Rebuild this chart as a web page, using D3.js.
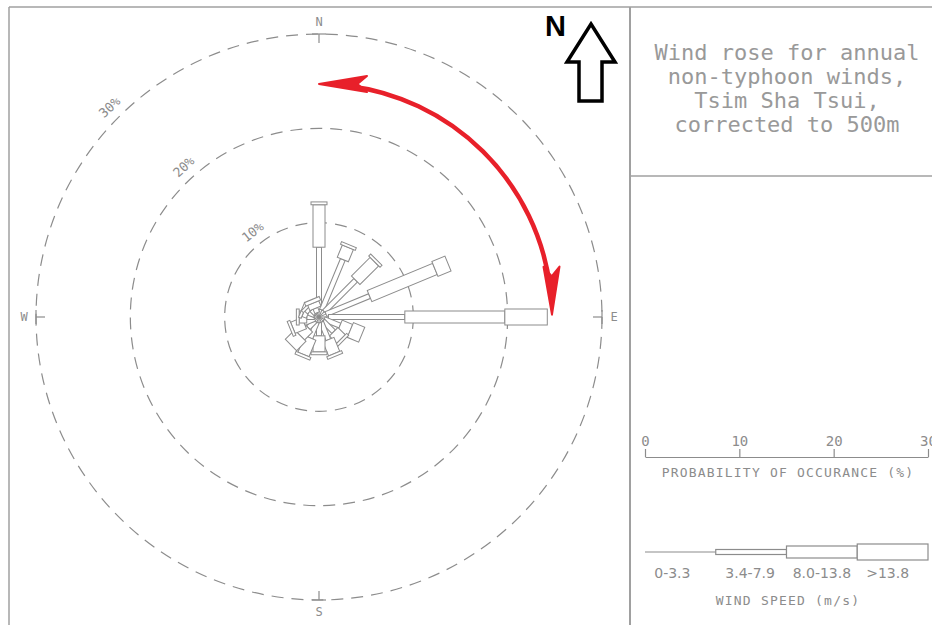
<!DOCTYPE html>
<html>
<head>
<meta charset="utf-8">
<script src="https://cdn.jsdelivr.net/npm/d3@7"></script>
<style>
body { margin: 0; background: #fff; }
svg { display: block; }
.cad { font-family: "DejaVu Sans Mono", monospace; fill: #8c8c8c; }
</style>
</head>
<body>
<div id="chart"></div>
<script>
// wind rose, 16 directions, % occurence split by speed band
var directions = ["N", "NNE", "NE", "ENE", "E", "ESE", "SE", "SSE", "S", "SSW", "SW", "WSW", "W", "WNW", "NW", "NNW"];
var speedBands = ["0-3.3", "3.4-7.9", "8.0-13.8", ">13.8"];
var band1 = [0.8, 0.8, 0.8, 0.8, 1.0, 0.6, 0.6, 0.6, 0.6, 0.6, 0.6, 0.5, 0.5, 0.5, 0.5, 0.5];
var band2 = [6.6, 5.8, 4.7, 5.0, 8.1, 1.8, 1.6, 2.0, 1.4, 1.8, 1.0, 1.2, 0.8, 0.7, 0.6, 0.5];
var band3 = [4.5, 1.4, 2.8, 7.5, 10.6, 1.2, 1.1, 1.6, 1.7, 1.9, 1.2, 1.3, 0.8, 0.5, 0.4, 0.6];
var band4 = [0.3, 0.3, 0.3, 1.5, 4.5, 1.3, 0.3, 0.3, 0.3, 0.3, 1.4, 0.3, 0.3, 0.3, 0.3, 0.4];
var rings = [10, 20, 30];
var scaleTicks = [0, 10, 20, 30];
var cardinals = ["N", "E", "S", "W"];
var titleLines = ["Wind rose for annual", "non-typhoon winds,", "Tsim Sha Tsui,", "corrected to 500m"];

var width = 932, height = 625;
var cx = 319, cy = 317;
var grey = "#8c8c8c";
var bandWidth = [0, 5, 12, 16];

var svg = d3.select("#chart").append("svg")
    .attr("width", width)
    .attr("height", height);

var r = d3.scaleLinear().domain([0, 30]).range([0, 283]);

// frame
var frame = svg.append("g").attr("stroke", "#a0a0a0").attr("stroke-width", 1.5);
frame.append("line").attr("x1", 9).attr("y1", 7).attr("x2", width).attr("y2", 7);
frame.append("line").attr("x1", 9).attr("y1", 7).attr("x2", 9).attr("y2", height);
frame.append("line").attr("x1", 630).attr("y1", 7).attr("x2", 630).attr("y2", height).attr("stroke-width", 2);
frame.append("line").attr("x1", 630).attr("y1", 176).attr("x2", width).attr("y2", 176);

var rose = svg.append("g").attr("transform", "translate(" + cx + "," + cy + ")");

// dashed rings
rose.selectAll("circle.ring")
    .data(rings)
    .enter().append("circle")
    .attr("class", "ring")
    .attr("r", function (d) { return r(d); })
    .attr("fill", "none")
    .attr("stroke", grey)
    .attr("stroke-width", 1.2)
    .attr("stroke-dasharray", "12,8");

// ring labels
rose.selectAll("text.ringlabel")
    .data(rings)
    .enter().append("text")
    .attr("class", "cad ringlabel")
    .attr("font-size", 13)
    .attr("text-anchor", "middle")
    .attr("transform", function (d) {
        var a = (d == 10 ? 322 : d == 20 ? 318 : 315) * Math.PI / 180;
        var rr = r(d) + 9;
        return "translate(" + (rr * Math.sin(a)) + "," + (-rr * Math.cos(a)) + ") rotate(" + (d == 10 ? -38 : -43) + ")";
    })
    .text(function (d) { return d + "%"; });

// cardinal ticks and letters
var R = r(30);
cardinals.forEach(function (c, i) {
    var g = rose.append("g").attr("transform", "rotate(" + (i * 90) + ")");
    g.append("line").attr("x1", -7).attr("x2", 7).attr("y1", -R).attr("y2", -R)
        .attr("stroke", grey).attr("stroke-width", 1.2);
    g.append("line").attr("x1", 0).attr("x2", 0).attr("y1", -R).attr("y2", -R + 9)
        .attr("stroke", grey).attr("stroke-width", 1.2);
    var a = i * Math.PI / 2;
    rose.append("text")
        .attr("class", "cad")
        .attr("font-size", 12)
        .attr("text-anchor", "middle")
        .attr("x", (R + 12) * Math.sin(a))
        .attr("y", -(R + 12) * Math.cos(a) + 4)
        .text(c);
});

// bars
var bars = rose.selectAll("g.dir")
    .data(directions)
    .enter().append("g")
    .attr("class", "dir")
    .attr("transform", function (d, i) { return "rotate(" + (i * 22.5) + ")"; });

bars.each(function (d, i) {
    var g = d3.select(this);
    var c1 = band1[i], c2 = c1 + band2[i], c3 = c2 + band3[i], c4 = c3 + band4[i];
    g.append("line")
        .attr("x1", 0).attr("x2", 0).attr("y1", 0).attr("y2", -r(c1))
        .attr("stroke", grey).attr("stroke-width", 1);
    [[c1, c2, bandWidth[1]], [c2, c3, bandWidth[2]], [c3, c4, bandWidth[3]]].forEach(function (s) {
        g.append("rect")
            .attr("x", -s[2] / 2)
            .attr("y", -r(s[1]))
            .attr("width", s[2])
            .attr("height", r(s[1]) - r(s[0]))
            .attr("fill", "#fff")
            .attr("stroke", grey)
            .attr("stroke-width", 1);
    });
});

// red annotation arrow (clockwise from N to E)
var arcR = 233;
var a0 = -Math.PI / 2, a1 = -0.01;
var p = d3.path();
p.arc(0, 0, arcR, a0 + 0.12, a1 - 0.12);
rose.append("path")
    .attr("d", p.toString())
    .attr("fill", "none")
    .attr("stroke", "#e8202a")
    .attr("stroke-width", 4.5);
function arrowHead(tipAngle, dir) {
    var tx = arcR * Math.cos(tipAngle), ty = arcR * Math.sin(tipAngle);
    // tangent direction
    var ux = -Math.sin(tipAngle) * dir, uy = Math.cos(tipAngle) * dir;
    var nx = -uy, ny = ux;
    var L = 48, w = 8;
    var bx = tx - ux * L, by = ty - uy * L;
    rose.append("path")
        .attr("d", "M" + tx + "," + ty + "L" + (bx + nx * w) + "," + (by + ny * w) +
            "L" + (tx - ux * L * 0.8) + "," + (ty - uy * L * 0.8) +
            "L" + (bx - nx * w) + "," + (by - ny * w) + "Z")
        .attr("fill", "#e8202a")
        .attr("stroke", "#e8202a")
        .attr("stroke-width", 2)
        .attr("stroke-linejoin", "round");
}
arrowHead(a0, -1);
arrowHead(a1, 1);

// north arrow
svg.append("text")
    .attr("x", 545).attr("y", 36)
    .attr("font-family", "Liberation Sans, Arial, sans-serif")
    .attr("font-weight", "bold")
    .attr("font-size", 29)
    .attr("fill", "#000")
    .text("N");
svg.append("path")
    .attr("d", "M591,24 L615,62 L602,62 L602,101 L579,101 L579,62 L567,62 Z")
    .attr("fill", "#fff")
    .attr("stroke", "#000")
    .attr("stroke-width", 3.5)
    .attr("stroke-linejoin", "miter");

// title block
svg.selectAll("text.title")
    .data(titleLines)
    .enter().append("text")
    .attr("class", "cad title")
    .attr("font-size", 22)
    .attr("text-anchor", "middle")
    .style("fill", "#999")
    .attr("x", 787)
    .attr("y", function (d, i) { return 60 + i * 24; })
    .text(function (d) { return d; });

// probability scale
var sx = d3.scaleLinear().domain([0, 30]).range([645, 928]);
var axis = svg.append("g")
    .attr("transform", "translate(0,457)")
    .call(d3.axisTop(sx).tickValues(scaleTicks).tickSize(8).tickSizeOuter(0).tickFormat(d3.format("d")));
axis.select(".domain").attr("stroke", grey).attr("stroke-width", 1.2);
axis.selectAll(".tick line").attr("stroke", grey).attr("stroke-width", 1.2);
axis.selectAll(".tick text")
    .attr("class", "cad")
    .attr("font-size", 14)
    .attr("y", -11)
    .attr("fill", grey);

svg.append("text")
    .attr("class", "cad")
    .attr("font-size", 13)
    .attr("letter-spacing", 1.2)
    .attr("text-anchor", "middle")
    .attr("x", 788).attr("y", 477)
    .text("PROBABILITY OF OCCURANCE (%)");

// wind speed legend
var lx = d3.scaleBand().domain(speedBands).range([645, 928]);
var ly = 552;
speedBands.forEach(function (b, i) {
    if (i == 0) {
        svg.append("line")
            .attr("x1", lx(b)).attr("x2", lx(b) + lx.bandwidth())
            .attr("y1", ly).attr("y2", ly)
            .attr("stroke", grey).attr("stroke-width", 1.2);
    } else {
        svg.append("rect")
            .attr("x", lx(b)).attr("y", ly - bandWidth[i] / 2)
            .attr("width", lx.bandwidth()).attr("height", bandWidth[i])
            .attr("fill", "#fff").attr("stroke", grey).attr("stroke-width", 1.2);
    }
});
svg.selectAll("text.band")
    .data(speedBands)
    .enter().append("text")
    .attr("class", "band")
    .attr("font-family", "DejaVu Sans, sans-serif")
    .attr("font-size", 14)
    .attr("fill", grey)
    .attr("text-anchor", "middle")
    .attr("x", function (d, i) { return lx(d) + lx.bandwidth() / 2 + (i == 0 ? -8 : i == 1 ? -1 : i == 3 ? -5 : 0); })
    .attr("y", 578)
    .text(function (d) { return d; });

svg.append("text")
    .attr("class", "cad")
    .attr("font-size", 13)
    .attr("letter-spacing", 1.2)
    .attr("text-anchor", "middle")
    .attr("x", 788).attr("y", 605)
    .text("WIND SPEED (m/s)");
</script>
</body>
</html>
